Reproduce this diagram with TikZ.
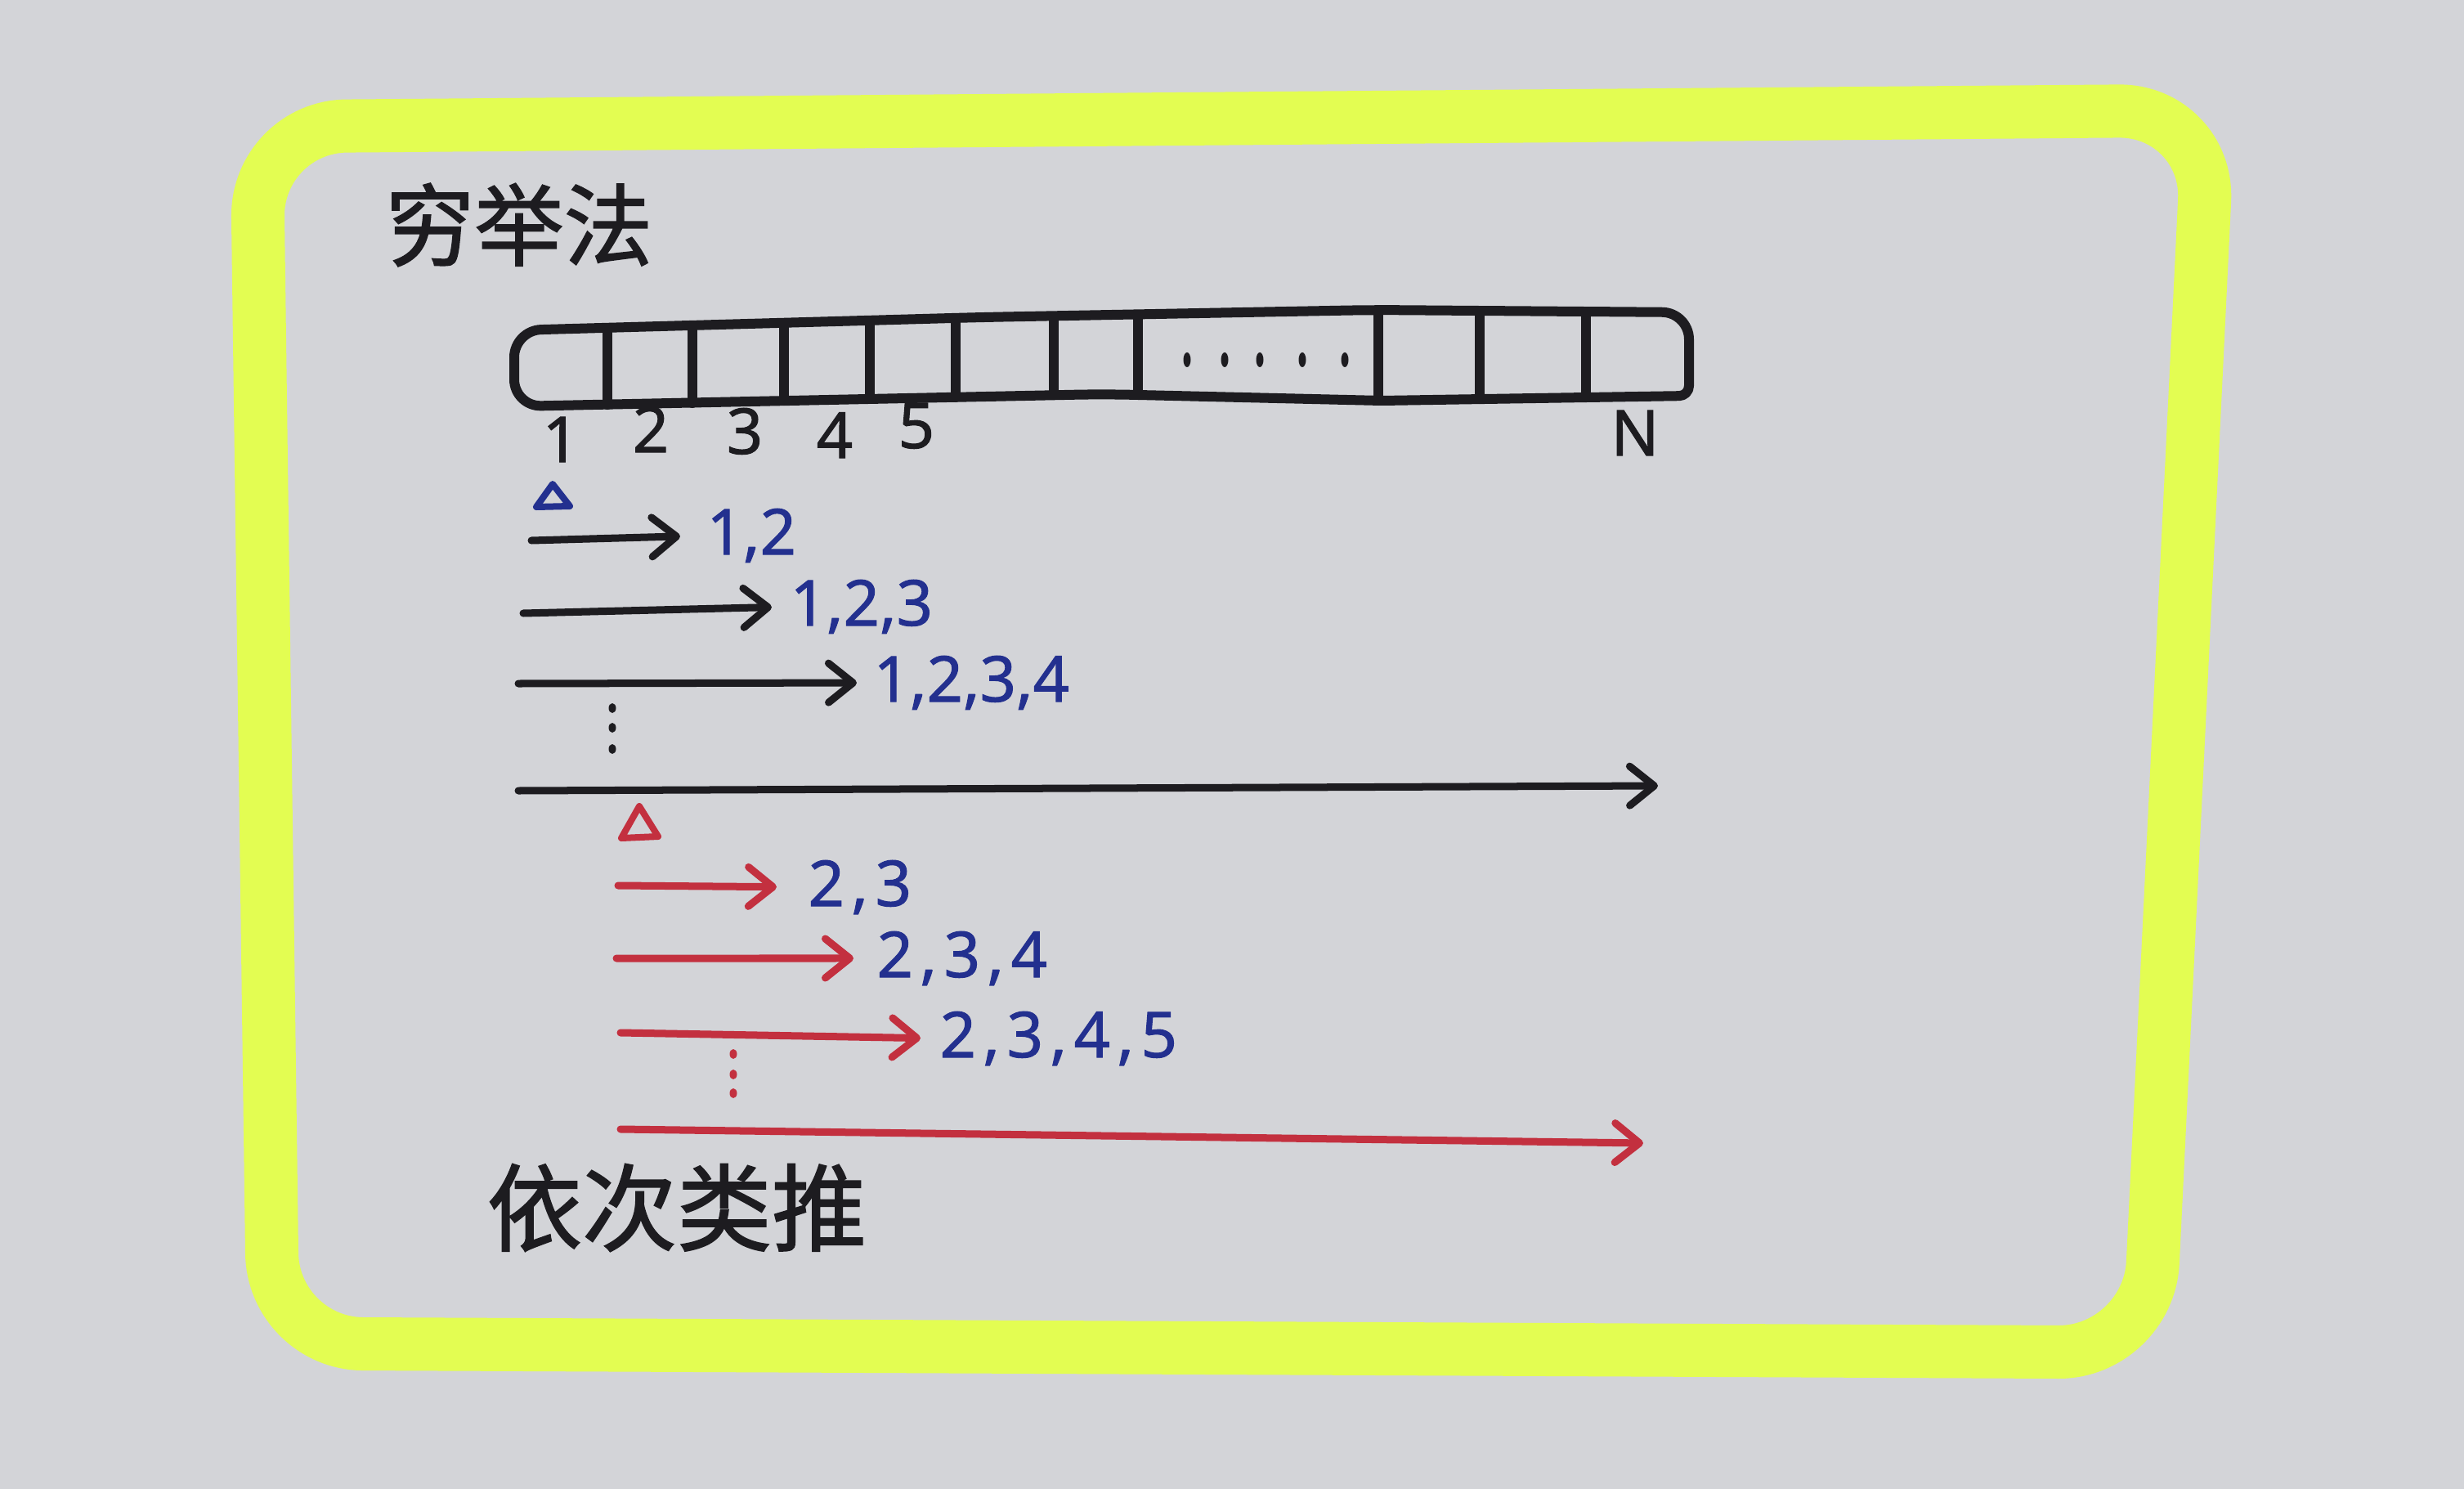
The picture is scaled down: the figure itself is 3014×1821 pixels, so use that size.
\documentclass[tikz,border=0pt]{standalone}
\usepackage{fontspec}
\setmainfont{Noto Sans}
\newfontfamily\cjk[FakeBold=1.5]{Noto Sans CJK SC}
\newfontfamily\hand[FakeBold=1.3]{Noto Sans}
\usetikzlibrary{arrows.meta}
\definecolor{paper}{HTML}{D3D4D8}
\definecolor{hl}{HTML}{E3FD52}
\definecolor{ink}{HTML}{1D1C20}
\definecolor{blueink}{HTML}{23308F}
\definecolor{redink}{HTML}{C3303F}
\tikzset{
  frame/.style={draw=hl, line width=0.65cm, rounded corners=1.1cm, line join=round},
  pen/.style={draw=ink, line width=0.12cm, line cap=round, line join=round},
  arr/.style={line width=0.09cm, line cap=round, line join=round,
    -{Straight Barb[length=0.3cm,width=0.48cm,round]}},
  idx/.style={inner sep=0pt, text=ink, font=\hand\fontsize{22pt}{26pt}\selectfont, anchor=base},
  bnum/.style={inner sep=0pt, text=blueink, font=\hand\fontsize{22pt}{26pt}\selectfont, anchor=base west},
  rnum/.style={inner sep=0pt, text=blueink, font=\hand\fontsize{22pt}{26pt}\selectfont\addfontfeatures{LetterSpace=11}, anchor=base west},
  cjktitle/.style={inner sep=0pt, text=ink, font=\cjk\fontsize{31pt}{36pt}\selectfont},
  cjkfoot/.style={inner sep=0pt, text=ink, font=\cjk\fontsize{33pt}{38pt}\selectfont},
  tri/.style={line width=0.08cm, line join=round}
}
\begin{document}
\begin{tikzpicture}[x=0.01cm,y=-0.01cm]
\useasboundingbox (0,0) rectangle (3014,1821);
\fill[paper] (0,0) rectangle (3014,1821);

% highlighter frame
\draw[frame] (1500,145) -- (2702,135) -- (2628,1654) -- (334,1643) -- (314,155) -- cycle;

% title
\node[cjktitle] (title) at (635,275) {穷举法};

% array box
\draw[pen, rounded corners=0.33cm] (1200,388) -- (1680,379) -- (2066,382) [rounded corners=0.12cm] -- (2066,484)
  -- (1690,490) [rounded corners=0.33cm] -- (1350,482) -- (629,497) -- (629,404) -- cycle;
\foreach \x/\t/\b in {743/401/495, 847/399/493, 959/397/490, 1064/394/488, 1169/392/486,
  1289/389/483, 1392/387/483, 1686/379/490, 1810/380/488, 1940/381/486}
  \draw[pen] (\x,\t) -- (\x,\b);
\foreach \x in {1452,1498,1541,1593,1645}
  \fill[ink] (\x,440) ellipse [x radius=0.045cm, y radius=0.09cm];

% index labels
\node[idx] (i1) at (686,565) {1};
\node[idx] (i2) at (796,553) {2};
\node[idx] (i3) at (911,555) {3};
\node[idx] (i4) at (1021,560) {4};
\node[idx] (i5) at (1121,548) {5};
\node[idx] (iN) at (2000,557) {N};

% blue marker
\draw[tri, draw=blueink] (676,592) -- (697,619) -- (656,620) -- cycle;

% black arrows
\coordinate (a1) at (650,661);
\coordinate (a2) at (640,750);
\coordinate (a3) at (634,836);
\node[bnum] (l1) at (864,678) {1,2};
\node[bnum] (l2) at (966,765) {1,2,3};
\node[bnum] (l3) at (1068,858) {1,2,3,4};
\draw[arr, ink, shorten >=0.32cm] (a1) -- (l1.west);
\draw[arr, ink, shorten >=0.22cm] (a2) -- (l2.west);
\draw[arr, ink, shorten >=0.2cm] (a3) -- (l3.west);
\foreach \y in {866,890,916}
  \fill[ink] (749,\y) ellipse [x radius=0.045cm, y radius=0.06cm];
\coordinate (b1) at (634,967);
\coordinate (b2) at (2028,961);
\draw[arr, ink] (b1) -- (b2);

% red marker
\draw[tri, draw=redink] (782,986) -- (805,1023) -- (760,1025) -- cycle;

% red arrows
\coordinate (c1) at (756,1083);
\coordinate (c2) at (754,1172);
\coordinate (c3) at (759,1263);
\node[rnum] (m1) at (988,1108) {2,3};
\node[rnum] (m2) at (1072,1195) {2,3,4};
\node[rnum] (m3) at (1149,1293) {2,3,4,5};
\draw[arr, redink, shorten >=0.38cm] (c1) -- (m1.west);
\draw[arr, redink, shorten >=0.28cm] (c2) -- (m2.west);
\draw[arr, redink, shorten >=0.23cm] (c3) -- (m3.west);
\foreach \y in {1289,1314,1337}
  \fill[redink] (897,\y) ellipse [x radius=0.045cm, y radius=0.06cm];
\coordinate (d1) at (759,1381);
\coordinate (d2) at (2010,1398);
\draw[arr, redink] (d1) -- (d2);

% footer
\node[cjkfoot] (foot) at (828,1477) {依次类推};
\end{tikzpicture}
\end{document}
